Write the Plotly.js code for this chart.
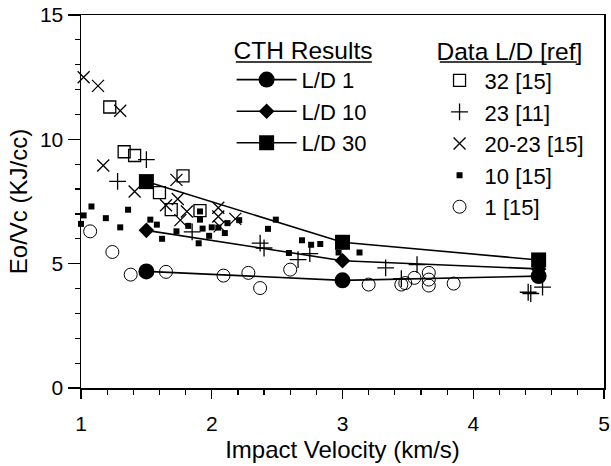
<!DOCTYPE html>
<html>
<head>
<meta charset="utf-8">
<script src="https://cdn.plot.ly/plotly-3.0.1.min.js"></script>
<style>html,body{margin:0;padding:0;background:#fff;}#chart{width:611px;height:466px;}</style>
</head>
<body>
<div id="chart"></div>
<script>
// CTH simulation results
const cthVelocity = [1.5, 3.0, 4.5];
const cthLD1 = [4.69, 4.33, 4.50];
const cthLD10 = [6.34, 5.12, 4.79];
const cthLD30 = [8.30, 5.86, 5.15];

// Experimental data, L/D 32 [15]
const ld32X = [1.22, 1.33, 1.41, 1.60, 1.69, 1.78, 1.91];
const ld32Y = [11.30, 9.50, 9.35, 7.86, 7.17, 8.53, 7.13];

// L/D 23 [11]
const ld23X = [1.28, 1.50, 1.85, 2.37, 2.40, 2.66, 2.75, 3.33, 3.45, 3.57, 4.42, 4.44, 4.53];
const ld23Y = [8.31, 9.18, 6.28, 5.83, 5.63, 5.16, 5.40, 4.83, 4.40, 4.96, 3.85, 3.80, 4.06];

// L/D 20-23 [15]
const ld2023X = [1.02, 1.13, 1.17, 1.30, 1.41, 1.65, 1.73, 1.74, 1.76, 1.81, 2.05, 2.05, 2.06, 2.18];
const ld2023Y = [12.50, 12.15, 8.95, 11.15, 7.90, 7.35, 8.37, 7.60, 6.75, 7.10, 7.25, 6.90, 6.50, 6.80];

// L/D 10 [15]
const ld10X = [1.00, 1.02, 1.08, 1.19, 1.30, 1.36, 1.53, 1.58, 1.62, 1.73, 1.82, 1.90, 1.91, 1.91, 1.93, 1.98, 2.00, 2.05, 2.10, 2.12, 2.21, 2.43, 2.49, 2.59, 2.69, 2.76, 2.83, 2.97, 3.13];
const ld10Y = [6.60, 6.94, 7.30, 6.83, 6.46, 7.17, 6.77, 6.57, 6.00, 6.30, 6.52, 5.82, 7.10, 6.77, 6.41, 6.12, 6.46, 6.45, 6.23, 6.63, 6.75, 6.40, 6.77, 5.43, 5.94, 5.76, 5.79, 5.45, 5.45];

// L/D 1 [15]
const ld1X = [1.07, 1.24, 1.38, 1.65, 2.09, 2.28, 2.37, 2.60, 3.20, 3.45, 3.48, 3.55, 3.66, 3.66, 3.66, 3.85];
const ld1Y = [6.30, 5.47, 4.56, 4.67, 4.52, 4.63, 4.02, 4.76, 4.16, 4.16, 4.22, 4.43, 4.63, 4.36, 4.12, 4.20];

const FONT = 'Liberation Sans, Arial, Helvetica, sans-serif';

function dataTrace(x, y, name, marker) {
  return {x: x, y: y, name: name, type: 'scatter', mode: 'markers',
          legend: 'legend2', cliponaxis: false, marker: marker};
}
function cthTrace(y, name, symbol, size) {
  return {x: cthVelocity, y: y, name: name, type: 'scatter', mode: 'lines+markers',
          legend: 'legend', cliponaxis: false,
          line: {color: '#000', width: 1.6},
          marker: {symbol: symbol, size: size, color: '#000'}};
}

const traces = [
  dataTrace(ld32X, ld32Y, '32 [15]', {symbol: 'square-open', size: 12, color: '#000', line: {width: 1.3, color: '#000'}}),
  dataTrace(ld23X, ld23Y, '23 [11]', {symbol: 'cross-thin-open', size: 12, color: '#000', line: {width: 1.3, color: '#000'}}),
  dataTrace(ld2023X, ld2023Y, '20-23 [15]', {symbol: 'x-thin-open', size: 12, color: '#000', line: {width: 1.3, color: '#000'}}),
  dataTrace(ld10X, ld10Y, '10 [15]', {symbol: 'square', size: 6, color: '#000'}),
  dataTrace(ld1X, ld1Y, '1 [15]', {symbol: 'circle-open', size: 13, color: '#000', line: {width: 1, color: '#000'}}),
  cthTrace(cthLD1, 'L/D 1', 'circle', 16),
  cthTrace(cthLD10, 'L/D 10', 'diamond', 12),
  cthTrace(cthLD30, 'L/D 30', 'square', 15)
];

const axisCommon = {
  showline: true, linecolor: '#000', linewidth: 1.5, mirror: true,
  showgrid: false, zeroline: false,
  ticks: 'outside', tickcolor: '#000', tickwidth: 1.3,
  tickfont: {family: FONT, size: 21, color: '#000'}
};

const layout = {
  width: 611, height: 466,
  margin: {l: 81, r: 7, t: 15, b: 78},
  paper_bgcolor: '#fff', plot_bgcolor: '#fff',
  font: {family: FONT, color: '#000'},
  showlegend: true,
  xaxis: Object.assign({}, axisCommon, {
    range: [1, 5], tickvals: [1, 2, 3, 4, 5], ticklen: 9, ticklabelstandoff: 7,
    minor: {dtick: 0.2, ticks: 'outside', ticklen: 5, tickcolor: '#000', tickwidth: 1.2, showgrid: false},
    title: {text: 'Impact Velocity (km/s)', font: {family: FONT, size: 24, color: '#000'}, standoff: 7}
  }),
  yaxis: Object.assign({}, axisCommon, {
    range: [0, 15], tickvals: [0, 5, 10, 15], ticklen: 12,
    minor: {dtick: 1, ticks: 'outside', ticklen: 5, tickcolor: '#000', tickwidth: 1.2, showgrid: false},
    title: {text: 'Eo/Vc (KJ/cc)', font: {family: FONT, size: 24, color: '#000'}, standoff: 5}
  }),
  legend: {
    x: 0.288, y: 0.968, xanchor: 'left', yanchor: 'top',
    bgcolor: 'rgba(0,0,0,0)', borderwidth: 0,
    font: {family: FONT, size: 22, color: '#000'},
    title: {text: 'CTH Results', side: 'top', font: {family: FONT, size: 24.5, color: '#000'}},
    itemwidth: 60, traceorder: 'normal'
  },
  legend2: {
    x: 0.676, y: 0.966, xanchor: 'left', yanchor: 'top',
    bgcolor: 'rgba(0,0,0,0)', borderwidth: 0,
    font: {family: FONT, size: 22, color: '#000'},
    title: {text: 'Data L/D [ref]', side: 'top', font: {family: FONT, size: 24.5, color: '#000'}},
    itemwidth: 40, traceorder: 'normal'
  },
  shapes: [
    {type: 'line', xref: 'paper', yref: 'paper', x0: 0.296, x1: 0.556, y0: 0.874, y1: 0.874, line: {color: '#000', width: 1.5}},
    {type: 'line', xref: 'paper', yref: 'paper', x0: 0.686, x1: 0.948, y0: 0.874, y1: 0.874, line: {color: '#000', width: 1.5}}
  ]
};

Plotly.newPlot('chart', traces, layout, {displayModeBar: false, staticPlot: true});
</script>
</body>
</html>
